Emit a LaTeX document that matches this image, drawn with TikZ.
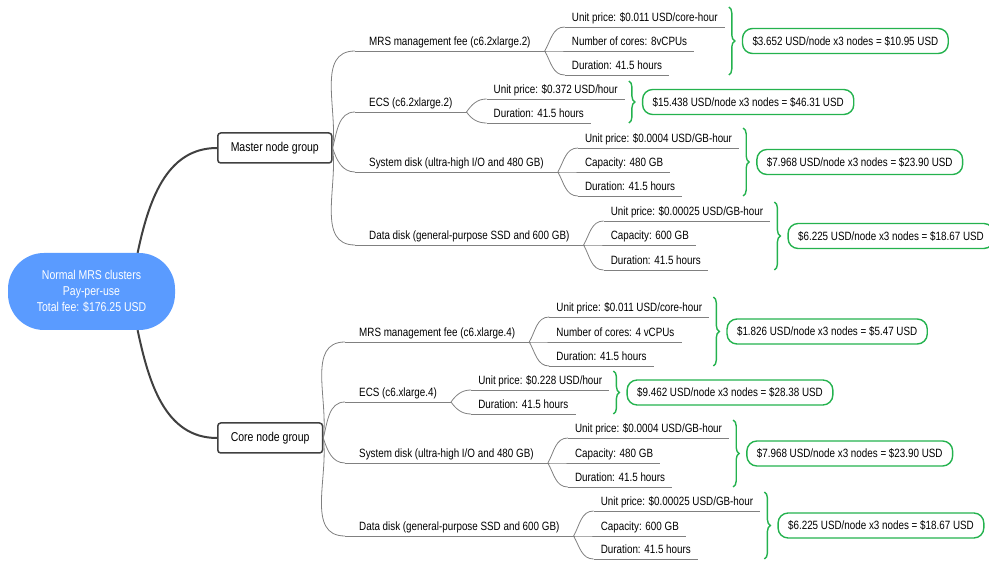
\documentclass[tikz,border=0pt]{standalone}
\usepackage{fontspec}
\setmainfont{Liberation Sans}[FakeStretch=0.82]
\usetikzlibrary{calc,positioning,decorations.pathreplacing}
\definecolor{rootblue}{RGB}{90,155,255}
\definecolor{boxgreen}{RGB}{36,178,78}
\definecolor{linegray}{RGB}{128,128,128}
\definecolor{boxgray}{RGB}{64,64,64}
\tikzset{
  group/.style={draw=boxgray,line width=1.5pt,rounded corners=3pt,fill=white,
    inner xsep=13pt,minimum height=30pt,anchor=west,font=\fontsize{12.8}{15}\selectfont},
  item/.style={anchor=south west,inner xsep=14pt,inner ysep=2.5pt,
    text height=8.8pt,text depth=2.5pt},
  leaf/.style={item,inner xsep=7pt},
  result/.style={draw=boxgreen,line width=1.4pt,rounded corners=10pt,
    inner xsep=10pt,minimum height=25pt},
  twig/.style={draw=linegray,line width=0.8pt},
  stem/.style={draw=boxgray,line width=2pt},
  brace/.style={draw=boxgreen,line width=1.4pt,decorate,decoration={brace,amplitude=6pt}}
}
\begin{document}
\begin{tikzpicture}[x=1pt,y=-1pt,font=\fontsize{12}{13}\selectfont]
  \useasboundingbox (0,0) rectangle (989,561);

  \node[fill=rootblue,rounded corners=36pt,minimum width=167pt,minimum height=77pt,
    text=white,align=center,font=\fontsize{12.8}{16}\selectfont]
    (root) at (91.5,291.5) {Normal MRS clusters\\Pay-per-use\\Total fee: \$176.25 USD};

  \node[group] (mg) at (217,148) {Master node group};
  \node[group] (cg) at (217,438) {Core node group};
  \draw[stem] (root.40) to[out=78,in=180] (mg.west);
  \draw[stem] (root.-40) to[out=-78,in=180] (cg.west);

  % master node group
  \node[item] (m1) at (355,51) {MRS management fee (c6.2xlarge.2)};
  \node[item] (m2) at (355,112) {ECS (c6.2xlarge.2)};
  \node[item] (m3) at (355,172) {System disk (ultra-high I/O and 480 GB)};
  \node[item] (m4) at (355,245) {Data disk (general-purpose SSD and 600 GB)};

  \node[leaf] (m1a) at ($(m1.south east)+(20,-24)$) {Unit price: \$0.011 USD/core-hour};
  \node[leaf] (m1b) at ($(m1.south east)+(20,0)$) {Number of cores: 8vCPUs};
  \node[leaf] (m1c) at ($(m1.south east)+(20,24)$) {Duration: 41.5 hours};
  \node[leaf] (m2a) at ($(m2.south east)+(20,-13)$) {Unit price: \$0.372 USD/hour};
  \node[leaf] (m2b) at ($(m2.south east)+(20,11)$) {Duration: 41.5 hours};
  \node[leaf] (m3a) at ($(m3.south east)+(20,-24)$) {Unit price: \$0.0004 USD/GB-hour};
  \node[leaf] (m3b) at ($(m3.south east)+(20,0)$) {Capacity: 480 GB};
  \node[leaf] (m3c) at ($(m3.south east)+(20,24)$) {Duration: 41.5 hours};
  \node[leaf] (m4a) at ($(m4.south east)+(20,-24)$) {Unit price: \$0.00025 USD/GB-hour};
  \node[leaf] (m4b) at ($(m4.south east)+(20,0)$) {Capacity: 600 GB};
  \node[leaf] (m4c) at ($(m4.south east)+(20,25)$) {Duration: 41.5 hours};

  % core node group
  \node[item] (c1) at (345,342) {MRS management fee (c6.xlarge.4)};
  \node[item] (c2) at (345,402) {ECS (c6.xlarge.4)};
  \node[item] (c3) at (345,463) {System disk (ultra-high I/O and 480 GB)};
  \node[item] (c4) at (345,536) {Data disk (general-purpose SSD and 600 GB)};

  \node[leaf] (c1a) at ($(c1.south east)+(20,-25)$) {Unit price: \$0.011 USD/core-hour};
  \node[leaf] (c1b) at ($(c1.south east)+(20,0)$) {Number of cores: 4 vCPUs};
  \node[leaf] (c1c) at ($(c1.south east)+(20,24)$) {Duration: 41.5 hours};
  \node[leaf] (c2a) at ($(c2.south east)+(20,-12)$) {Unit price: \$0.228 USD/hour};
  \node[leaf] (c2b) at ($(c2.south east)+(20,12)$) {Duration: 41.5 hours};
  \node[leaf] (c3a) at ($(c3.south east)+(20,-25)$) {Unit price: \$0.0004 USD/GB-hour};
  \node[leaf] (c3b) at ($(c3.south east)+(20,0)$) {Capacity: 480 GB};
  \node[leaf] (c3c) at ($(c3.south east)+(20,24)$) {Duration: 41.5 hours};
  \node[leaf] (c4a) at ($(c4.south east)+(20,-25)$) {Unit price: \$0.00025 USD/GB-hour};
  \node[leaf] (c4b) at ($(c4.south east)+(20,0)$) {Capacity: 600 GB};
  \node[leaf] (c4c) at ($(c4.south east)+(20,23)$) {Duration: 41.5 hours};

  % underlines
  \foreach \n in {m1,m2,m3,m4,m1a,m1b,m1c,m2a,m2b,m3a,m3b,m3c,m4a,m4b,m4c,
                  c1,c2,c3,c4,c1a,c1b,c1c,c2a,c2b,c3a,c3b,c3c,c4a,c4b,c4c}
    \draw[twig] (\n.south west) -- (\n.south east);

  % branches
  \foreach \p/\c/\o in {mg/m1/82,mg/m2/75,mg/m3/-72,mg/m4/-82,
                        cg/c1/82,cg/c2/75,cg/c3/-72,cg/c4/-82}
    \draw[twig] (\p.east) to[out=\o,in=180] (\c.south west);
  \foreach \p/\c/\o in {m1/m1a/60,m1/m1b/0,m1/m1c/-60,m2/m2a/55,m2/m2b/-55,
                        m3/m3a/60,m3/m3b/0,m3/m3c/-60,m4/m4a/60,m4/m4b/0,m4/m4c/-60,
                        c1/c1a/60,c1/c1b/0,c1/c1c/-60,c2/c2a/55,c2/c2b/-55,
                        c3/c3a/60,c3/c3b/0,c3/c3c/-60,c4/c4a/60,c4/c4b/0,c4/c4c/-60}
    \draw[twig] (\p.south east) to[out=\o,in=180] (\c.south west);

  % totals
  \draw[brace] ($(m1a.south east)+(4,-20)$) -- ($(m1a.south east |- m1c.south)+(4,0)$)
    node[result,midway,right=13pt] (m1r) {\$3.652 USD/node x3 nodes = \$10.95 USD};
  \draw[brace] ($(m2a.south east)+(4,-18)$) -- ($(m2a.south east |- m2b.south)+(4,0)$)
    node[result,midway,right=13pt] (m2r) {\$15.438 USD/node x3 nodes = \$46.31 USD};
  \draw[brace] ($(m3a.south east)+(4,-20)$) -- ($(m3a.south east |- m3c.south)+(4,0)$)
    node[result,midway,right=13pt] (m3r) {\$7.968 USD/node x3 nodes = \$23.90 USD};
  \draw[brace] ($(m4a.south east)+(4,-19)$) -- ($(m4a.south east |- m4c.south)+(4,0)$)
    node[result,midway,right=13pt] (m4r) {\$6.225 USD/node x3 nodes = \$18.67 USD};
  \draw[brace] ($(c1a.south east)+(4,-20)$) -- ($(c1a.south east |- c1c.south)+(4,0)$)
    node[result,midway,right=13pt] (c1r) {\$1.826 USD/node x3 nodes = \$5.47 USD};
  \draw[brace] ($(c2a.south east)+(4,-19)$) -- ($(c2a.south east |- c2b.south)+(4,0)$)
    node[result,midway,right=13pt] (c2r) {\$9.462 USD/node x3 nodes = \$28.38 USD};
  \draw[brace] ($(c3a.south east)+(4,-18)$) -- ($(c3a.south east |- c3c.south)+(4,0)$)
    node[result,midway,right=13pt] (c3r) {\$7.968 USD/node x3 nodes = \$23.90 USD};
  \draw[brace] ($(c4a.south east)+(4,-19)$) -- ($(c4a.south east |- c4c.south)+(4,0)$)
    node[result,midway,right=13pt] (c4r) {\$6.225 USD/node x3 nodes = \$18.67 USD};
\end{tikzpicture}
\end{document}
